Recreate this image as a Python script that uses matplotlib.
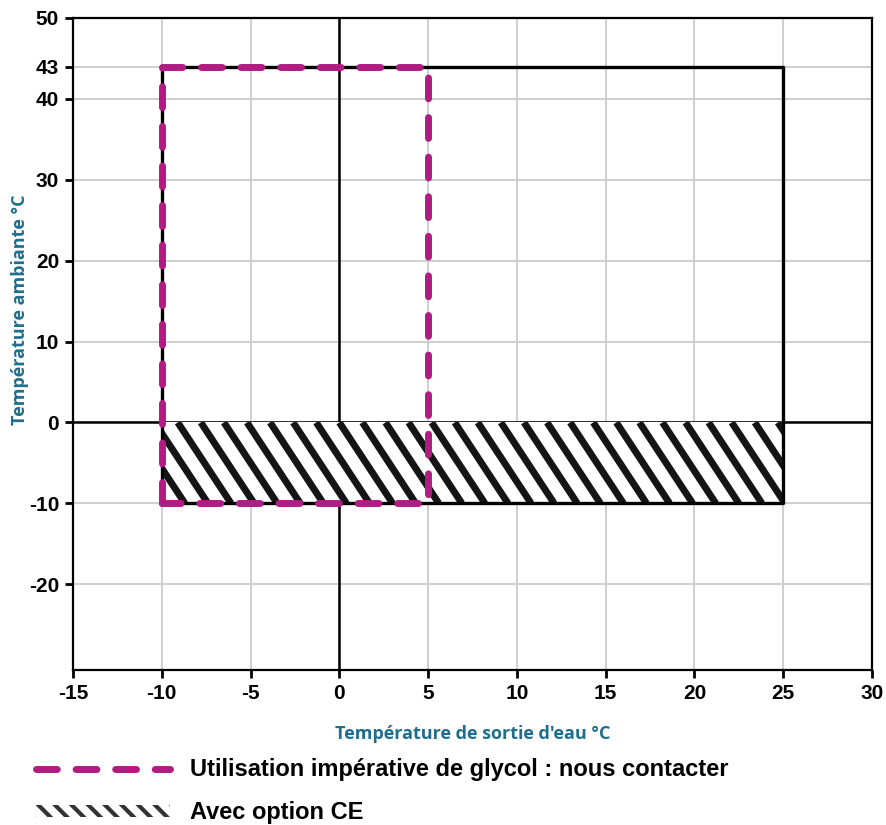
import numpy as np
import matplotlib.pyplot as plt
from matplotlib.patches import Rectangle, Patch
from matplotlib.lines import Line2D

# operating envelope (water outlet temp x, ambient temp y)
envelope_x = [-10, 25, 25, -10, -10]
envelope_y = [-10, -10, 43, 43, -10]

glycol_x = [-10, -10, 5, 5, -10]
glycol_y = [-10, 43, 43, -10, -10]

ce_x = [-10, 25]      # hatched zone "Avec option CE"
ce_y = [-10, 0]

xticks = [-15, -10, -5, 0, 5, 10, 15, 20, 25, 30]
yticks = [-20, -10, 0, 10, 20, 30, 40, 43, 50]

magenta = '#b01c82'
teal = '#1f6e8c'

plt.rcParams['font.family'] = ['Liberation Sans', 'DejaVu Sans']
plt.rcParams['hatch.linewidth'] = 3.0

# the original axis is stretched a bit between 40 and 43
knots_in = [-100, 40, 43, 50, 100]
knots_out = [-100, 40, 44, 50, 100]
def fwd(y):
    return np.interp(y, knots_in, knots_out)
def inv(y):
    return np.interp(y, knots_out, knots_in)

fig = plt.figure(figsize=(8.86, 8.25), dpi=100)
ax = fig.add_axes([0.0824, 0.1879, 0.9018, 0.7903])
ax.set_yscale('function', functions=(fwd, inv))

ax.set_xlim(-15, 30)
ax.set_ylim(-30.6, 50)
ax.set_xticks(xticks)
ax.set_yticks(yticks)
ax.set_xticklabels([str(v) for v in xticks], fontsize=15, fontweight='bold')
ax.set_yticklabels([str(v) for v in yticks], fontsize=15, fontweight='bold')
ax.yaxis.set_minor_locator(plt.NullLocator())
ax.tick_params(direction='out', length=6, width=2, pad=4)
for s in ax.spines.values():
    s.set_linewidth(1.6)

ax.grid(True, color='#cccccc', linewidth=1.3)
ax.set_axisbelow(True)
ax.axhline(0, color='black', linewidth=1.8, zorder=2)
ax.axvline(0, color='black', linewidth=1.8, zorder=2)

# hatched CE zone, stripes clipped to the rectangle
rect = Rectangle((ce_x[0], ce_y[0]), ce_x[1] - ce_x[0], ce_y[1] - ce_y[0],
                 facecolor='white', edgecolor='none', zorder=3)
ax.add_patch(rect)
shift = 3.0   # x shift over the 10 degree band
step = 1.3
for c in np.arange(ce_x[0] - shift, ce_x[1] + step, step):
    ln, = ax.plot([c, c + shift], [ce_y[1], ce_y[0]], color='#151515',
                  linewidth=5.0, solid_capstyle='butt', zorder=4)
    ln.set_clip_path(rect)

ax.plot(envelope_x, envelope_y, color='black', linewidth=2.4, zorder=5)
ax.plot(glycol_x, glycol_y, color=magenta, linewidth=5, linestyle=(0, (3, 2.7)),
        dash_capstyle='round', zorder=6)

ax.set_xlabel('Température de sortie d\'eau °C', fontsize=13, fontweight='bold',
              color=teal, family=['Open Sans', 'DejaVu Sans'], labelpad=16)
fig.text(0.0226, 0.624, 'Température ambiante °C', rotation=90, fontsize=13,
         fontweight='bold', color=teal, family=['Open Sans', 'DejaVu Sans'],
         ha='center', va='center')

handles = [Line2D([], [], color=magenta, linewidth=5, linestyle=(0, (3, 2.7)),
                  dash_capstyle='round'),
           Patch(facecolor='white', edgecolor='#333333', linewidth=0, hatch='\\\\')]
labels = ['Utilisation impérative de glycol : nous contacter', 'Avec option CE']
leg = fig.legend(handles, labels, loc='upper left', bbox_to_anchor=(0.0215, 0.101),
                 frameon=False, handlelength=5.7, handleheight=0.45,
                 handletextpad=0.85, labelspacing=0.85, borderaxespad=0.3,
                 prop={'size': 17, 'weight': 'bold'})

fig.savefig('out.png', dpi=100)
